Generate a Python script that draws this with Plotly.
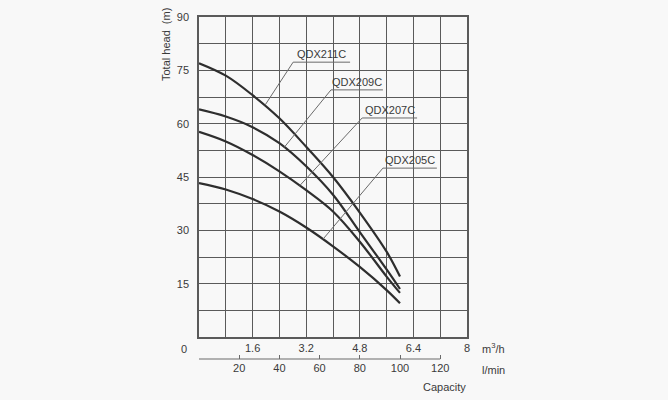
import plotly.graph_objects as go

# ---------------- data ----------------
flow_m3h = [0, 0.8, 1.6, 2.4, 3.2, 4.0, 4.8, 5.6, 6.0]
head_211c = [77.0, 73.5, 68.0, 61.5, 53.5, 45.0, 35.0, 24.0, 17.0]
head_209c = [64.0, 62.0, 59.0, 54.5, 48.0, 40.0, 29.5, 19.0, 13.5]
head_207c = [57.7, 55.0, 51.2, 46.6, 41.3, 35.3, 26.8, 17.0, 12.4]
head_205c = [43.3, 41.5, 38.8, 35.3, 30.8, 25.5, 19.7, 13.2, 9.5]
series_names = ["QDX211C", "QDX209C", "QDX207C", "QDX205C"]

# leader lines: (point on curve, corner, end of underline) in data units
leader_211c = ([1.97, 2.81, 4.51], [65.2, 77.3, 77.3])
leader_209c = ([2.54, 3.94, 5.49], [53.3, 69.5, 69.5])
leader_207c = ([3.01, 4.87, 6.51], [42.6, 61.6, 61.6])
leader_205c = ([3.70, 5.49, 7.10], [27.5, 47.5, 47.5])

x_grid_vals = [0, 0.8, 1.6, 2.4, 3.2, 4.0, 4.8, 5.6, 6.4, 7.2, 8.0]
x_tick_text = ["", "", "1.6", "", "3.2", "", "4.8", "", "6.4", "", "8"]
y_grid_vals = [0, 7.5, 15, 22.5, 30, 37.5, 45, 52.5, 60, 67.5, 75, 82.5, 90]
y_tick_text = ["", "", "15", "", "30", "", "45", "", "60", "", "75", "", "90"]
lmin_vals = [0, 20, 40, 60, 80, 100, 120]
lmin_text = ["", "20", "40", "60", "80", "100", "120"]
lmin_max = 8 * 1000 / 60  # 8 m3/h expressed in l/min

# ---------------- layout helpers ----------------
W, H = 668, 400
ML, MR, MT, MB = 199, 201, 17, 20
PW, PH = W - ML - MR, H - MT - MB


def paper(x, y):
    return (x - ML) / PW, (H - MB - y) / PH


y_dom0 = paper(0, 337)[1]
x2_pos = paper(0, 359)[1]

FONT = "Liberation Sans, Arial, sans-serif"
TXT = "#3a3a3a"
GRID = "#5a5a5a"
CURVE = "#2e2e2e"
LEAD = "#6a6a6a"
BG = "#f8f8f8"

fig = go.Figure()

curves = [head_211c, head_209c, head_207c, head_205c]
for name, h in zip(series_names, curves):
    fig.add_trace(go.Scatter(x=flow_m3h, y=h, mode="lines", name=name,
                             line=dict(color=CURVE, width=2.2, shape="spline", smoothing=1.0),
                             showlegend=False, hoverinfo="skip"))

leaders = [leader_211c, leader_209c, leader_207c, leader_205c]
for name, (lx, ly) in zip(series_names, leaders):
    fig.add_trace(go.Scatter(x=lx, y=ly, mode="lines",
                             line=dict(color=LEAD, width=1),
                             showlegend=False, hoverinfo="skip"))
    fig.add_annotation(x=(lx[1] + lx[2]) / 2, y=ly[1], text=name, showarrow=False,
                       xanchor="center", yanchor="bottom", yshift=0,
                       font=dict(family=FONT, size=11, color=TXT))

# invisible trace to instantiate the l/min axis
fig.add_trace(go.Scatter(x=[0, 120], y=[0, 0], xaxis="x2", yaxis="y", mode="markers",
                         marker=dict(opacity=0), showlegend=False, hoverinfo="skip"))

fig.update_layout(
    width=W, height=H,
    margin=dict(l=ML, r=MR, t=MT, b=MB),
    paper_bgcolor=BG, plot_bgcolor=BG,
    font=dict(family=FONT, size=11, color=TXT),
    xaxis=dict(range=[0, 8], tickvals=x_grid_vals, ticktext=x_tick_text,
               showgrid=True, gridcolor=GRID, gridwidth=1.3,
               showline=True, linecolor=GRID, linewidth=1.5, mirror=True,
               zeroline=False, ticks="", ticklabelstandoff=0,
               anchor="y", domain=[0, 1]),
    yaxis=dict(range=[0, 90], tickvals=y_grid_vals, ticktext=y_tick_text,
               showgrid=True, gridcolor=GRID, gridwidth=1.3,
               showline=True, linecolor=GRID, linewidth=1.5, mirror=True,
               zeroline=False, ticks="", ticklabelstandoff=6,
               domain=[y_dom0, 1]),
    xaxis2=dict(range=[0, lmin_max], overlaying="x", anchor="free", position=x2_pos,
                side="bottom",
                tickvals=lmin_vals, ticktext=lmin_text,
                showgrid=False, zeroline=False, showline=False,
                ticks="inside", ticklen=4, tickcolor=LEAD, tickwidth=1,
                ticklabelstandoff=1),
)

# l/min axis baseline, 0..120 only
fig.add_shape(type="line", xref="x2", yref="paper",
              x0=lmin_vals[0], x1=lmin_vals[-1], y0=x2_pos, y1=x2_pos,
              line=dict(color=LEAD, width=1))


# extra labels
def add_label(text, x, y, **kw):
    px_, py_ = paper(x, y)
    fig.add_annotation(xref="paper", yref="paper", x=px_, y=py_, text=text,
                       showarrow=False, font=dict(family=FONT, size=11, color=TXT), **kw)


add_label("0", 184, 349, xanchor="center", yanchor="middle")
add_label("m<sup>3</sup>/h", 480, 348, xanchor="left", yanchor="middle")
add_label("l/min", 480, 370, xanchor="left", yanchor="middle")
add_label("Capacity", 444, 387, xanchor="center", yanchor="middle")
add_label("Total head  (m)", 166, 45, xanchor="center", yanchor="middle", textangle=-90)

fig.write_html("out.html")
